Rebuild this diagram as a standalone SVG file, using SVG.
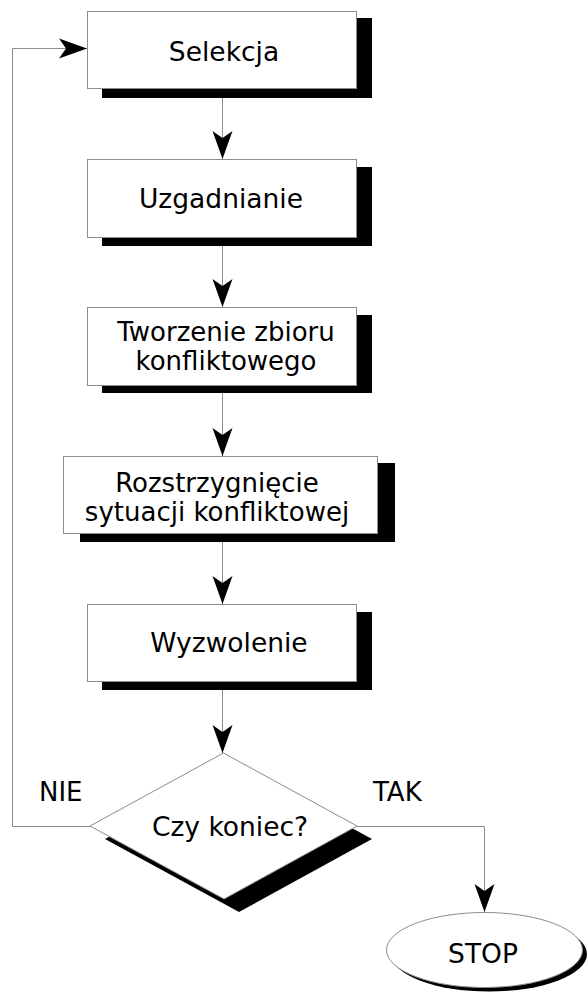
<svg xmlns="http://www.w3.org/2000/svg" width="587" height="996" viewBox="0 0 587 996">
<style>
  .box { fill: #ffffff; stroke: #8c8c8c; stroke-width: 1; }
  .shadow { fill: #000000; stroke: none; }
  .lbl { font-family: "DejaVu Sans", Verdana, sans-serif; font-size: 26.5px; fill: #000000; text-anchor: middle; }
  .lbl2 { font-family: "DejaVu Sans", Verdana, sans-serif; font-size: 26px; fill: #000000; text-anchor: middle; }
  .side { font-family: "DejaVu Sans", Verdana, sans-serif; font-size: 26px; fill: #000000; }
  .conn { fill: none; stroke: #8c8c8c; stroke-width: 1; }
</style>
<defs>
  <marker id="arr" markerUnits="userSpaceOnUse" markerWidth="32" markerHeight="24" viewBox="-30 -12 32 24" refX="0" refY="0" orient="auto">
    <path d="M0,0 L-28,-10 L-21,0 L-28,10 Z" fill="#000000"/>
  </marker>
</defs>
<rect width="587" height="996" fill="#ffffff"/>

<g id="connectors">
  <line class="conn" x1="222.5" y1="89" x2="222.5" y2="159" marker-end="url(#arr)"/>
  <line class="conn" x1="222.5" y1="238" x2="222.5" y2="307" marker-end="url(#arr)"/>
  <line class="conn" x1="222.5" y1="386" x2="222.5" y2="456" marker-end="url(#arr)"/>
  <line class="conn" x1="222.5" y1="534" x2="222.5" y2="604" marker-end="url(#arr)"/>
  <line class="conn" x1="222.5" y1="682" x2="222.5" y2="753" marker-end="url(#arr)"/>
  <polyline class="conn" points="90,826.5 12.5,826.5 12.5,48.5 87,48.5" marker-end="url(#arr)"/>
  <polyline class="conn" points="357,826.5 484.5,826.5 484.5,912" marker-end="url(#arr)"/>
</g>

<g id="selekcja">
  <rect class="shadow" x="102" y="18" width="270" height="80"/>
  <rect class="box" x="87.5" y="11.5" width="269" height="77"/>
  <text class="lbl" x="224" y="61">Selekcja</text>
</g>

<g id="uzgadnianie">
  <rect class="shadow" x="102" y="167" width="270" height="79"/>
  <rect class="box" x="87.5" y="159.5" width="269" height="78"/>
  <text class="lbl" x="221" y="208">Uzgadnianie</text>
</g>

<g id="tworzenie">
  <rect class="shadow" x="102" y="315" width="270" height="78"/>
  <rect class="box" x="87.5" y="307.5" width="269" height="78"/>
  <text class="lbl2" x="226" y="341">Tworzenie zbioru</text>
  <text class="lbl2" x="226" y="370">konfliktowego</text>
</g>

<g id="rozstrzygniecie">
  <rect class="shadow" x="80" y="463" width="315" height="79"/>
  <rect class="box" x="63.5" y="456.5" width="314" height="77"/>
  <text class="lbl2" x="217" y="492">Rozstrzygnięcie</text>
  <text class="lbl2" x="217" y="521">sytuacji konfliktowej</text>
</g>

<g id="wyzwolenie">
  <rect class="shadow" x="102" y="612" width="270" height="78"/>
  <rect class="box" x="87.5" y="604.5" width="269" height="77"/>
  <text class="lbl" x="229" y="652">Wyzwolenie</text>
</g>

<g id="czy-koniec">
  <polygon class="shadow" points="238,766 372,839 239,912 105,839"/>
  <polygon class="box" points="223.5,753 357,826 224,899 90,826"/>
  <text class="lbl" x="230" y="836">Czy koniec?</text>
</g>

<g id="stop">
  <ellipse class="shadow" cx="489" cy="954" rx="98" ry="37.5"/>
  <ellipse class="box" cx="484.5" cy="950" rx="98" ry="37.5"/>
  <text class="lbl" x="483" y="963">STOP</text>
</g>

<text class="side" x="39" y="801">NIE</text>
<text class="side" x="373" y="801">TAK</text>
</svg>
